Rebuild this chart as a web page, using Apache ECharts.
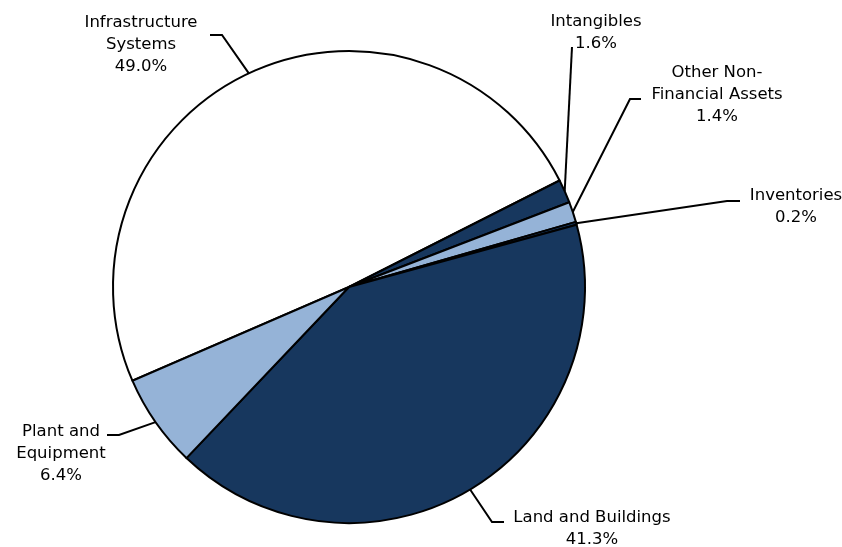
<!DOCTYPE html>
<html>
<head>
<meta charset="utf-8">
<script src="https://cdn.jsdelivr.net/npm/echarts@6/dist/echarts.min.js"></script>
<style>html,body{margin:0;padding:0;background:#fff;}#chart{width:842px;height:547px;}</style>
</head>
<body>
<div id="chart"></div>
<script>
// Data (clockwise order starting from lower-left edge of Infrastructure Systems)
const categories = ['Infrastructure\nSystems', 'Intangibles', 'Other Non-\nFinancial Assets', 'Inventories', 'Land and Buildings', 'Plant and\nEquipment'];
const shares = [49.0, 1.6, 1.4, 0.2, 41.3, 6.4];
const sliceColors = ['#FFFFFF', '#17375E', '#95B3D7', '#17375E', '#17375E', '#95B3D7'];

// Label layout (positions only)
const labelPlaces = [
  { x: 141, y: 12, elbow: [222, 35], end: [210, 35] },
  { x: 596, y: 11, elbow: [572, 47], end: [572, 47] },
  { x: 717, y: 62, elbow: [630, 99], end: [641, 99] },
  { x: 796, y: 185, elbow: [727, 201], end: [740, 201] },
  { x: 592, y: 507, elbow: [492, 522], end: [504, 522] },
  { x: 61, y: 421, elbow: [119, 435], end: [107, 435] }
];

const chart = echarts.init(document.getElementById('chart'), null, { renderer: 'canvas' });
chart.setOption({
  backgroundColor: '#ffffff',
  animation: false,
  series: [{
    type: 'pie',
    center: [349, 287],
    radius: [0, 236],
    startAngle: 203.4,
    clockwise: true,
    avoidLabelOverlap: false,
    emphasis: { disabled: true },
    itemStyle: { borderColor: '#000000', borderWidth: 2 },
    label: {
      show: true,
      position: 'outside',
      fontFamily: 'DejaVu Sans',
      fontSize: 16.5,
      lineHeight: 22,
      color: '#000000',
      formatter: function (p) { return p.name + '\n' + p.value.toFixed(1) + '%'; }
    },
    labelLine: { show: true, length: 10, length2: 10, lineStyle: { color: '#000000', width: 2 } },
    labelLayout: function (params) {
      const L = labelPlaces[params.dataIndex];
      const start = params.labelLinePoints ? params.labelLinePoints[0] : L.elbow;
      return {
        x: L.x, y: L.y, align: 'center', verticalAlign: 'top',
        labelLinePoints: [start, L.elbow, L.end]
      };
    },
    data: categories.map(function (c, i) {
      return { name: c, value: shares[i], itemStyle: { color: sliceColors[i] } };
    })
  }]
});
</script>
</body>
</html>
